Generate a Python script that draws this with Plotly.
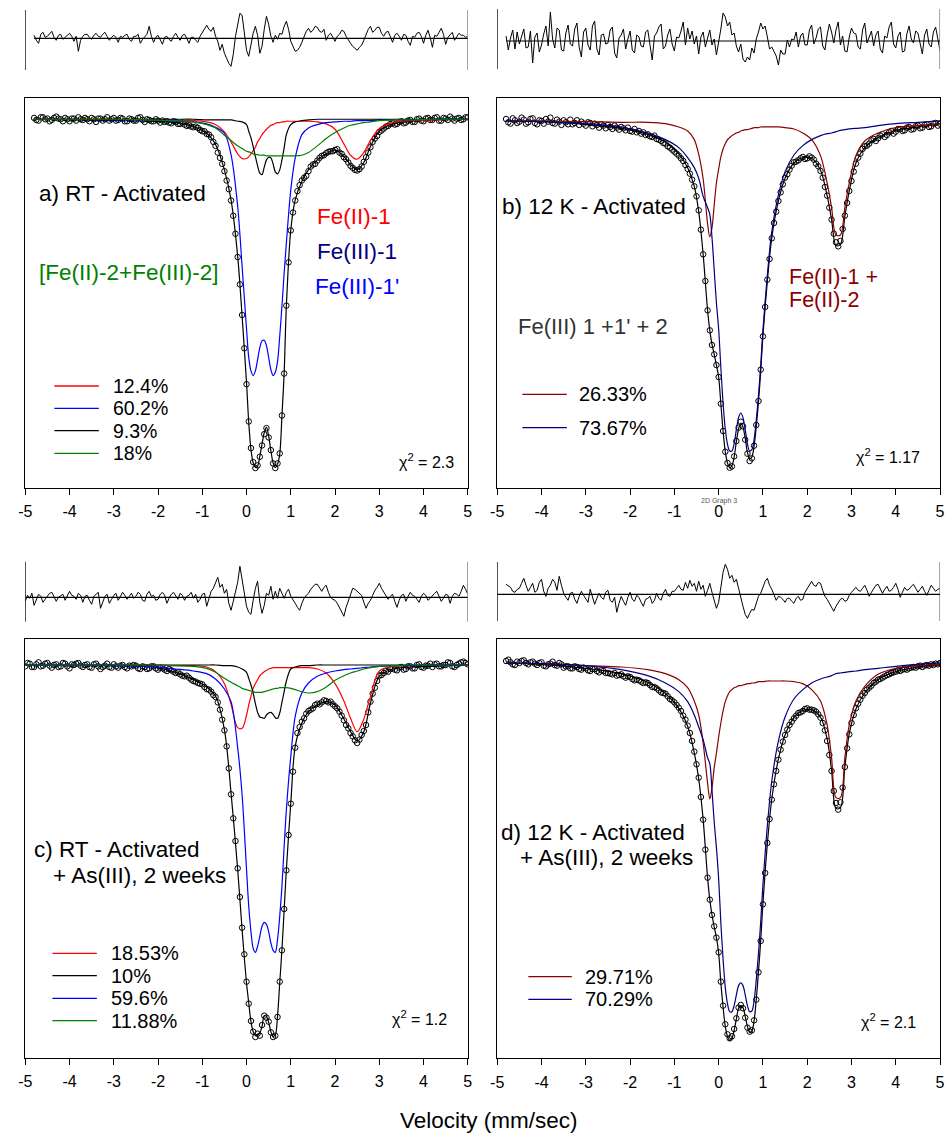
import plotly.graph_objects as go

W, H = 950, 1133
FONT = "Liberation Sans, Arial, Helvetica, sans-serif"

# ---------------- data (velocity in mm/s, relative transmission in %) ----------------
vel = [-4.8, -4.75, -4.7, -4.65, -4.6, -4.55, -4.5, -4.45, -4.4, -4.35,
       -4.3, -4.25, -4.2, -4.15, -4.1, -4.05, -4.0, -3.95, -3.9, -3.85,
       -3.8, -3.75, -3.7, -3.65, -3.6, -3.55, -3.5, -3.45, -3.4, -3.35,
       -3.3, -3.25, -3.2, -3.15, -3.1, -3.05, -3.0, -2.95, -2.9, -2.85,
       -2.8, -2.75, -2.7, -2.65, -2.6, -2.55, -2.5, -2.45, -2.4, -2.35,
       -2.3, -2.25, -2.2, -2.15, -2.1, -2.05, -2.0, -1.95, -1.9, -1.85,
       -1.8, -1.75, -1.7, -1.65, -1.6, -1.55, -1.5, -1.45, -1.4, -1.35,
       -1.3, -1.25, -1.2, -1.15, -1.1, -1.05, -1.0, -0.95, -0.9, -0.85,
       -0.8, -0.75, -0.7, -0.65, -0.6, -0.55, -0.5, -0.45, -0.4, -0.35,
       -0.3, -0.25, -0.2, -0.15, -0.1, -0.05, 0.0, 0.05, 0.1, 0.15,
       0.2, 0.25, 0.3, 0.35, 0.4, 0.45, 0.5, 0.55, 0.6, 0.65,
       0.7, 0.75, 0.8, 0.85, 0.9, 0.95, 1.0, 1.05, 1.1, 1.15,
       1.2, 1.25, 1.3, 1.35, 1.4, 1.45, 1.5, 1.55, 1.6, 1.65,
       1.7, 1.75, 1.8, 1.85, 1.9, 1.95, 2.0, 2.05, 2.1, 2.15,
       2.2, 2.25, 2.3, 2.35, 2.4, 2.45, 2.5, 2.55, 2.6, 2.65,
       2.7, 2.75, 2.8, 2.85, 2.9, 2.95, 3.0, 3.05, 3.1, 3.15,
       3.2, 3.25, 3.3, 3.35, 3.4, 3.45, 3.5, 3.55, 3.6, 3.65,
       3.7, 3.75, 3.8, 3.85, 3.9, 3.95, 4.0, 4.05, 4.1, 4.15,
       4.2, 4.25, 4.3, 4.35, 4.4, 4.45, 4.5, 4.55, 4.6, 4.65,
       4.7, 4.75, 4.8, 4.85, 4.9, 4.95, 5.0]
vel_c = [-5.0, -4.95, -4.9, -4.85] + vel

v_fit_rt = [-4.0, -3.0, -2.2, -1.6, -1.2, -0.9, -0.7, -0.5, -0.35, -0.2, -0.1, 0.0, 0.05, 0.1,
            0.15, 0.2, 0.25, 0.3, 0.35, 0.4, 0.45, 0.5, 0.55, 0.6, 0.65, 0.7, 0.75, 0.8, 0.85,
            0.9, 1.0, 1.1, 1.25, 1.4, 1.6, 1.8, 2.0, 2.2, 2.35, 2.5, 2.65, 2.8, 3.0, 3.3, 3.7,
            4.2, 5.0]
v_fit_a = [-4.8] + v_fit_rt
v_fit_c = [-5.0] + v_fit_rt
v_fit_lt = [-4.8, -4.0, -3.0, -2.2, -1.6, -1.2, -0.9, -0.7, -0.55, -0.45, -0.35, -0.25, -0.2,
            -0.15, -0.1, -0.05, 0.0, 0.05, 0.1, 0.15, 0.2, 0.25, 0.3, 0.35, 0.4, 0.45, 0.5,
            0.55, 0.6, 0.65, 0.7, 0.75, 0.8, 0.85, 0.9, 0.95, 1.0, 1.1, 1.2, 1.35, 1.5, 1.7,
            1.9, 2.1, 2.3, 2.45, 2.55, 2.65, 2.75, 2.85, 2.95, 3.1, 3.3, 3.6, 4.0, 4.5, 5.0]

# ---- panel a : RT - Activated ----
data_a = [100.02, 99.99, 99.98, 100.03, 100.03, 100.00, 100.01, 99.97, 99.99, 100.02,
          100.04, 100.01, 100.00, 99.97, 100.02, 100.00, 99.97, 100.01, 100.01, 99.98,
          100.03, 100.00, 99.99, 100.02, 100.00, 99.97, 100.02, 100.00, 99.96, 100.01,
          100.01, 99.98, 100.00, 100.03, 99.98, 100.00, 100.02, 99.98, 99.99, 100.02,
          100.01, 99.97, 99.97, 100.01, 100.00, 99.98, 99.98, 100.02, 100.03, 99.99,
          99.96, 100.00, 99.99, 99.97, 99.97, 100.00, 99.98, 99.95, 99.98, 99.96,
          99.97, 99.95, 99.94, 99.97, 99.96, 99.93, 99.93, 99.95, 99.92, 99.90,
          99.91, 99.89, 99.88, 99.89, 99.87, 99.84, 99.82, 99.82, 99.78, 99.77,
          99.73, 99.66, 99.60, 99.50, 99.42, 99.33, 99.22, 99.08, 98.95, 98.78,
          98.55, 98.28, 97.93, 97.52, 97.06, 96.56, 96.02, 95.46, 95.06, 94.85,
          94.76, 94.80, 94.93, 95.10, 95.27, 95.36, 95.22, 95.03, 94.83, 94.76,
          94.83, 94.98, 95.55, 96.18, 97.20, 97.85, 98.33, 98.60, 98.78, 98.92,
          99.01, 99.08, 99.12, 99.15, 99.22, 99.29, 99.32, 99.33, 99.38, 99.42,
          99.45, 99.46, 99.49, 99.51, 99.52, 99.52, 99.54, 99.55, 99.50, 99.48,
          99.43, 99.40, 99.35, 99.30, 99.27, 99.24, 99.23, 99.25, 99.29, 99.36,
          99.43, 99.50, 99.58, 99.66, 99.71, 99.75, 99.81, 99.83, 99.86, 99.89,
          99.90, 99.93, 99.94, 99.92, 99.93, 99.96, 99.97, 99.94, 99.95, 99.98,
          99.99, 99.96, 99.96, 100.00, 100.01, 99.98, 99.97, 100.01, 100.02, 99.99,
          99.99, 100.02, 100.03, 99.98, 99.98, 100.02, 100.01, 99.99, 100.04, 100.01,
          99.98, 100.01, 100.02, 99.99, 100.00, 100.03, 100.03]
res_a = [0.3, -0.2, -0.5, 0.4, 0.6, 0.1, 0.2, 0.5, 0.7, 0.1,
         -0.2, 0.3, 0.4, -0.1, 0.1, 0.3, 0.5, 0.2, -0.3, 0.2,
         -1.3, -0.2, 0.2, 0.4, 0.4, 0.1, -0.1, 0.3, 0.5, 0.2,
         0.1, 0.4, 0.6, 0.2, -0.2, 0.1, 0.3, 0.1, -0.4, 0.2,
         0.1, 0.3, 0.4, -0.1, -0.3, 0.2, 0.2, 0.4, -0.5, -0.1,
         0.1, 0.4, 1.2, 0.2, -0.4, 0.1, 0.3, -0.2, -0.6, 0.1,
         0.2, -0.1, -0.3, 0.2, 0.5, 0.1, -0.2, 0.3, 0.4, 0.0,
         -0.5, 0.1, 0.1, -0.2, -0.4, 0.2, 0.6, 0.9, 1.3, 0.9,
         0.7, 1.1, 0.2, -0.3, -1.2, -0.6, -1.5, -2.0, -2.5, -2.8,
         -1.6, 0.2, 1.5, 2.5, 2.3, 0.4, -1.2, -1.8, -0.6, 0.5,
         1.2, 0.3, -1.5, -0.8, 0.9, 2.2, 1.4, 0.2, -0.4, 0.3,
         -0.1, 0.5, 0.4, 1.2, 1.7, 0.9, -0.3, -0.8, -1.3, -1.2,
         -0.9, -0.4, 0.2, 0.7, 1.0, 0.6, 0.8, 1.2, 1.1, 0.7,
         0.6, 0.9, -0.2, 0.3, 0.5, 0.1, -0.3, 0.2, 0.4, 0.8,
         0.7, 0.2, -0.2, -0.5, -0.8, -1.0, -1.2, -0.9, -0.7, -0.2,
         0.3, 0.9, 1.2, 0.6, 0.8, 1.1, 1.1, 0.5, 0.2, 0.6,
         0.7, 0.1, -0.4, 0.3, 0.5, 0.2, -0.2, 0.4, 0.3, -0.3,
         -0.7, 0.2, 0.1, 0.5, 0.6, 0.2, -0.5, 0.3, 0.8, 0.1,
         -0.9, 0.3, 0.2, 0.6, 1.0, 0.4, -0.6, 0.1, 0.4, 0.6,
         -0.2, 0.2, 0.5, 0.3, 0.3, 0.1, 0.2]
fe2_1_a = [100.00, 100.00, 100.00, 99.99, 99.98, 99.98, 99.96, 99.92, 99.81, 99.66, 99.48,
           99.41, 99.41, 99.44, 99.48, 99.53, 99.58, 99.66, 99.71, 99.77, 99.81, 99.85, 99.88,
           99.91, 99.92, 99.94, 99.95, 99.95, 99.96, 99.96, 99.97, 99.97, 99.97, 99.97, 99.97,
           99.96, 99.93, 99.85, 99.63, 99.46, 99.40, 99.50, 99.68, 99.86, 99.95, 99.98, 99.99,
           100.00]
fe3_1p_a = [100.00, 100.00, 99.99, 99.99, 99.97, 99.96, 99.93, 99.88, 99.79, 99.47, 98.69,
            97.79, 96.85, 96.42, 96.22, 96.15, 96.22, 96.39, 96.57, 96.67, 96.68, 96.60, 96.42,
            96.24, 96.15, 96.20, 96.36, 96.74, 97.19, 97.69, 98.14, 98.94, 99.42, 99.77, 99.87,
            99.92, 99.95, 99.96, 99.97, 99.97, 99.98, 99.98, 99.98, 99.99, 99.99, 99.99,
            100.00, 100.00]
fe3_1_a = [100.00, 100.00, 100.00, 100.00, 100.00, 100.00, 99.99, 99.99, 99.99, 99.99, 99.97,
           99.96, 99.92, 99.82, 99.72, 99.59, 99.44, 99.30, 99.19, 99.17, 99.28, 99.39, 99.43,
           99.42, 99.33, 99.21, 99.18, 99.24, 99.39, 99.57, 99.77, 99.92, 99.96, 99.98, 99.99,
           100.00, 100.00, 100.00, 100.00, 100.00, 100.00, 100.00, 100.00, 100.00, 100.00,
           100.00, 100.00, 100.00]
fe23_2_a = [100.00, 100.00, 100.00, 99.99, 99.98, 99.96, 99.92, 99.87, 99.76, 99.68, 99.60,
            99.56, 99.52, 99.51, 99.50, 99.48, 99.47, 99.47, 99.46, 99.46, 99.46, 99.45, 99.45,
            99.45, 99.45, 99.45, 99.45, 99.45, 99.45, 99.45, 99.45, 99.45, 99.45, 99.46, 99.50,
            99.60, 99.71, 99.80, 99.87, 99.91, 99.93, 99.95, 99.96, 99.98, 99.99, 99.99,
            100.00, 100.00]
total_a = [100.00, 99.99, 99.98, 99.97, 99.95, 99.89, 99.79, 99.62, 99.24, 98.79, 97.94, 97.04,
           96.04, 95.44, 95.04, 94.84, 94.77, 94.79, 94.94, 95.12, 95.29, 95.37, 95.24, 95.02,
           94.84, 94.77, 94.82, 94.97, 95.54, 96.19, 97.19, 98.34, 98.79, 99.07, 99.24, 99.39,
           99.48, 99.54, 99.44, 99.32, 99.24, 99.35, 99.59, 99.82, 99.93, 99.97, 99.99, 100.00]

# ---- panel b : 12 K - Activated ----
data_b = [100.03, 99.98, 99.96, 100.04, 100.01, 99.97, 99.99, 100.05, 100.02, 99.96,
          99.98, 100.03, 100.04, 99.97, 99.95, 100.01, 100.00, 99.96, 100.03, 99.99,
          100.05, 99.97, 99.96, 100.02, 99.99, 99.94, 100.01, 99.98, 99.95, 100.02,
          99.95, 99.97, 100.01, 99.94, 99.99, 99.96, 99.93, 99.98, 99.97, 99.92,
          99.96, 99.94, 99.90, 99.95, 99.93, 99.89, 99.94, 99.91, 99.88, 99.93,
          99.90, 99.87, 99.91, 99.89, 99.86, 99.90, 99.85, 99.84, 99.88, 99.83,
          99.85, 99.81, 99.83, 99.79, 99.80, 99.77, 99.76, 99.78, 99.73, 99.72,
          99.70, 99.67, 99.66, 99.62, 99.60, 99.57, 99.54, 99.51, 99.48, 99.44,
          99.40, 99.34, 99.28, 99.21, 99.12, 99.02, 98.87, 98.66, 98.37, 98.00,
          97.60, 97.16, 96.86, 96.64, 96.50, 96.34, 96.16, 95.76, 95.35, 95.04,
          94.87, 94.80, 94.82, 94.97, 95.20, 95.40, 95.49, 95.42, 95.22, 95.01,
          94.90, 94.94, 95.13, 95.44, 95.80, 96.27, 96.77, 97.21, 97.62, 97.93,
          98.24, 98.47, 98.64, 98.80, 98.93, 99.05, 99.15, 99.20, 99.27, 99.33,
          99.38, 99.39, 99.41, 99.44, 99.46, 99.43, 99.44, 99.47, 99.45, 99.42,
          99.36, 99.32, 99.25, 99.15, 99.01, 98.88, 98.70, 98.52, 98.31, 98.18,
          98.12, 98.20, 98.38, 98.58, 98.77, 98.95, 99.10, 99.24, 99.36, 99.45,
          99.51, 99.58, 99.62, 99.63, 99.66, 99.71, 99.73, 99.70, 99.74, 99.78,
          99.80, 99.76, 99.79, 99.83, 99.85, 99.81, 99.84, 99.88, 99.88, 99.85,
          99.86, 99.90, 99.91, 99.87, 99.88, 99.92, 99.93, 99.89, 99.90, 99.94,
          99.95, 99.91, 99.92, 99.96, 99.97, 99.93, 99.96]
res_b = [0.5, -0.9, 0.3, 1.1, -0.8, 0.9, -0.3, 0.6, 1.2, -0.7,
         -0.6, 1.0, -2.2, 0.4, 0.8, -1.1, -0.4, 0.7, 1.5, -0.5,
         2.9, 0.2, -0.7, 1.3, 1.1, -0.9, -1.0, 0.8, 1.6, -0.3,
         -0.5, 1.2, 1.8, -0.6, -1.6, 0.9, 1.3, -0.4, -0.9, 1.5,
         2.0, -0.8, -1.4, 0.6, 0.7, -0.3, -0.2, 1.1, 1.4, -1.2,
         -1.7, 0.3, 0.6, 1.2, -0.8, 0.2, 1.0, -0.9, -1.2, 0.6,
         0.4, -0.5, -0.6, 0.9, 1.1, -0.4, -1.9, 0.5, 0.8, 1.4,
         1.7, -0.8, -0.5, 0.6, 1.2, -0.3, -1.0, 0.4, 0.3, 1.0,
         1.9, -0.4, 1.3, 0.2, 1.0, -0.3, 0.5, -1.3, 0.4, 0.9,
         -0.6, 0.3, 1.1, -0.4, 0.2, -1.4, -0.2, 1.2, 2.8, 2.4,
         1.5, 1.9, 0.6, 0.8, -0.5, -1.1, -0.3, -1.8, -2.1, -1.6,
         -1.9, -0.7, -1.2, 0.2, 0.9, 1.8, 1.2, 1.5, 0.4, -0.8,
         -0.6, -1.1, -1.5, -2.4, -0.9, -1.3, -1.3, 0.1, -0.6, 0.2,
         0.1, 0.9, -0.6, 0.5, 0.8, -0.4, -0.4, 1.1, 1.6, -0.3,
         0.3, 1.2, 1.4, -0.5, -0.9, 0.6, 1.7, 0.9, -0.2, 1.1,
         1.9, -0.4, 0.5, -1.0, -1.1, 0.4, 1.3, 0.8, 0.7, -0.6,
         -0.8, 1.1, 1.8, -0.2, 0.4, 1.0, -0.5, 0.6, 1.0, -0.8,
         -1.2, 0.5, 0.3, 1.4, 1.9, -0.3, -0.7, 0.5, 0.9, -1.1,
         -1.0, 0.7, 1.5, 0.2, -0.2, 1.0, 0.8, -0.4, -1.3, 0.6,
         1.2, -0.3, -0.6, 0.9, 1.4, 0.2, -1.0]
fe2_b = [100.00, 100.00, 99.99, 99.98, 99.98, 99.96, 99.91, 99.85, 99.72, 99.50, 99.13, 98.46,
         98.26, 98.40, 98.74, 99.07, 99.28, 99.46, 99.58, 99.66, 99.72, 99.75, 99.78, 99.80,
         99.82, 99.83, 99.85, 99.86, 99.87, 99.87, 99.88, 99.89, 99.90, 99.90, 99.90, 99.91,
         99.91, 99.91, 99.91, 99.91, 99.90, 99.88, 99.82, 99.72, 99.48, 99.07, 98.70, 98.29,
         98.29, 98.70, 99.07, 99.48, 99.70, 99.82, 99.90, 99.93, 99.96]
fe3_b = [100.00, 99.99, 99.96, 99.91, 99.82, 99.72, 99.60, 99.45, 99.30, 99.14, 98.87, 98.70,
         98.60, 98.25, 97.76, 97.27, 96.88, 96.30, 95.77, 95.38, 95.15, 95.05, 95.05, 95.16,
         95.37, 95.55, 95.62, 95.55, 95.37, 95.16, 95.05, 95.07, 95.22, 95.52, 95.89, 96.34,
         96.87, 97.69, 98.34, 98.89, 99.24, 99.49, 99.63, 99.72, 99.78, 99.81, 99.82, 99.84,
         99.86, 99.87, 99.88, 99.89, 99.90, 99.93, 99.96, 99.98, 100.00]
total_b = [100.00, 99.99, 99.95, 99.89, 99.80, 99.68, 99.51, 99.30, 99.02, 98.64, 98.00, 97.16,
           96.86, 96.65, 96.50, 96.34, 96.16, 95.76, 95.35, 95.04, 94.87, 94.80, 94.83, 94.96,
           95.19, 95.38, 95.47, 95.41, 95.24, 95.03, 94.93, 94.96, 95.12, 95.42, 95.79, 96.25,
           96.78, 97.60, 98.25, 98.80, 99.14, 99.37, 99.45, 99.44, 99.26, 98.88, 98.52, 98.13,
           98.15, 98.57, 98.95, 99.37, 99.60, 99.75, 99.86, 99.91, 99.96]

# ---- panel c : RT - Activated + As(III), 2 weeks ----
data_c = [99.98, 100.03, 100.02, 99.97,
          99.97, 100.01, 100.04, 99.98, 99.99, 100.02, 100.03, 99.99, 99.96, 100.00,
          100.01, 99.97, 99.98, 100.03, 100.02, 99.98, 99.95, 100.01, 100.00, 100.02,
          100.03, 99.99, 99.97, 100.00, 100.01, 99.97, 99.96, 100.01, 100.02, 99.98,
          99.94, 99.97, 99.99, 100.02, 99.97, 99.96, 100.01, 99.98, 99.96, 99.99,
          100.00, 99.97, 99.95, 99.99, 99.98, 100.00, 99.99, 99.95, 99.94, 99.98,
          99.97, 99.94, 99.95, 99.98, 99.98, 99.95, 99.93, 99.96, 99.95, 99.93,
          99.91, 99.94, 99.92, 99.90, 99.88, 99.89, 99.86, 99.84, 99.83, 99.84,
          99.81, 99.78, 99.76, 99.75, 99.73, 99.72, 99.71, 99.67, 99.64, 99.63,
          99.60, 99.55, 99.52, 99.44, 99.33, 99.18, 99.02, 98.78, 98.45, 98.06,
          97.70, 97.36, 96.95, 96.52, 96.06, 95.66, 95.25, 94.92, 94.66, 94.50,
          94.42, 94.47, 94.44, 94.60, 94.74, 94.71, 94.65, 94.49, 94.42, 94.44,
          94.72, 95.25, 95.72, 96.34, 96.92, 97.45, 97.92, 98.40, 98.76, 98.98,
          99.07, 99.15, 99.20, 99.27, 99.31, 99.33, 99.35, 99.40, 99.42, 99.41,
          99.44, 99.47, 99.46, 99.44, 99.45, 99.41, 99.38, 99.35, 99.30, 99.24,
          99.17, 99.10, 99.05, 98.98, 98.93, 98.87, 98.83, 98.88, 98.95, 99.01,
          99.10, 99.29, 99.45, 99.57, 99.66, 99.76, 99.84, 99.85, 99.88, 99.91,
          99.90, 99.94, 99.95, 99.93, 99.92, 99.96, 99.97, 99.93, 99.94, 99.98,
          99.98, 99.95, 99.95, 100.00, 100.01, 99.97, 99.96, 99.99, 99.99, 100.02,
          99.97, 100.01, 100.02, 99.98, 99.98, 100.00, 100.00, 100.04, 100.03, 99.98,
          99.97, 100.00, 100.02, 100.04, 100.05, 100.03, 100.01]
res_c = [-0.4, 0.2, -0.1, 0.4,
         -0.8, -0.3, 0.3, 0.1, -0.5, -0.2, 0.1, 0.4, 0.5, 0.1,
         -0.4, 0.0, 0.2, 0.3, -0.3, 0.1, 0.6, 0.2, 0.1, -0.2,
         0.4, 0.2, -0.5, 0.1, 0.2, -0.3, -0.7, 0.1, 0.3, 0.5,
         -1.1, -0.4, 0.1, 0.3, -0.6, -0.2, 0.2, 0.4, -0.3, 0.1,
         0.5, 0.2, -0.2, 0.1, 0.4, -0.1, 0.1, 0.5, 0.3, -0.3,
         -0.4, 0.3, 0.6, 0.1, 0.2, -0.3, -0.2, 0.3, 0.5, 0.2,
         -0.6, -0.1, 0.3, 0.5, 0.1, -0.2, 0.4, 0.2, -0.3, 0.1,
         0.2, 0.5, -0.1, 0.3, -0.5, -0.2, 0.3, 0.4, -0.9, -0.2,
         0.6, 0.9, 1.4, 2.0, 1.0, 1.3, 0.4, 0.8, -0.6, -1.3,
         -0.4, 0.7, 1.5, 3.1, 1.8, 0.2, -0.9, -1.5, -1.7, -0.3,
         0.9, 1.6, -0.5, -1.6, -0.8, 0.4, 0.2, 1.1, -0.2, 0.6,
         -0.1, 0.9, 0.3, -0.1, 0.5, 0.8, 0.1, -0.2, -0.6, -1.0,
         -1.3, -0.6, -0.1, 0.2, 0.4, 0.8, 1.1, 1.3, 1.3, 0.9,
         0.6, 1.0, 1.2, 0.5, 0.0, -0.2, -0.3, -0.6, -1.0, -1.5,
         -1.9, -1.0, -0.4, 0.4, 0.9, 0.8, 0.6, 0.4, 0.2, -0.5,
         -1.1, -0.6, -0.3, 0.2, 0.7, 1.0, 1.4, 0.9, 0.5, 0.1,
         -0.2, 0.1, 0.3, -0.4, -1.0, -0.3, 0.2, 0.3, -0.4, 0.1,
         0.5, 0.2, 0.1, -0.2, -0.5, 0.1, 0.4, 0.2, -0.3, -0.1,
         0.2, 0.4, 0.6, 0.1, -0.4, -0.1, 0.3, 0.2, -0.6, 0.1,
         0.4, 0.3, 0.1, 0.6, 1.2, 0.8, 0.3]
fe2_1_c = [100.00, 100.00, 100.00, 100.00, 99.99, 99.99, 99.97, 99.90, 99.72, 99.41, 99.06,
           99.05, 99.25, 99.40, 99.53, 99.65, 99.72, 99.78, 99.84, 99.87, 99.90, 99.92, 99.94,
           99.95, 99.96, 99.96, 99.96, 99.96, 99.96, 99.96, 99.96, 99.96, 99.96, 99.96, 99.96,
           99.94, 99.88, 99.72, 99.46, 99.20, 99.00, 99.19, 99.53, 99.91, 99.98, 99.99,
           100.00, 100.00]
fe3_1_c = [100.00, 100.00, 100.00, 100.00, 100.00, 100.00, 100.00, 100.00, 99.99, 99.99, 99.97,
           99.94, 99.89, 99.80, 99.70, 99.58, 99.42, 99.29, 99.22, 99.21, 99.20, 99.25, 99.28,
           99.29, 99.26, 99.21, 99.20, 99.28, 99.44, 99.60, 99.76, 99.94, 99.97, 99.99, 99.99,
           100.00, 100.00, 100.00, 100.00, 100.00, 100.00, 100.00, 100.00, 100.00, 100.00,
           100.00, 100.00, 100.00]
fe3_1p_c = [100.00, 100.00, 99.99, 99.98, 99.94, 99.91, 99.87, 99.79, 99.64, 99.45, 98.76,
            98.05, 96.93, 96.38, 96.00, 95.75, 95.69, 95.78, 95.93, 96.08, 96.14, 96.11, 96.00,
            95.83, 95.72, 95.69, 95.88, 96.23, 96.68, 97.28, 97.83, 98.63, 99.23, 99.58, 99.73,
            99.83, 99.88, 99.91, 99.93, 99.94, 99.95, 99.96, 99.97, 99.98, 99.99, 99.99,
            100.00, 100.00]
fe23_2_c = [100.00, 100.00, 100.00, 100.00, 99.99, 99.98, 99.95, 99.89, 99.80, 99.74, 99.69,
            99.65, 99.63, 99.62, 99.61, 99.60, 99.59, 99.59, 99.59, 99.59, 99.60, 99.61, 99.62,
            99.63, 99.64, 99.65, 99.65, 99.66, 99.66, 99.66, 99.66, 99.65, 99.63, 99.60, 99.58,
            99.60, 99.67, 99.77, 99.84, 99.88, 99.91, 99.94, 99.96, 99.98, 99.99, 100.00,
            100.00, 100.00]
total_c = [100.00, 99.99, 99.99, 99.98, 99.89, 99.78, 99.67, 99.53, 99.03, 98.08, 96.93, 96.03,
           95.23, 94.93, 94.65, 94.50, 94.44, 94.45, 94.48, 94.58, 94.74, 94.73, 94.64, 94.50,
           94.43, 94.45, 94.73, 95.23, 95.73, 96.33, 96.93, 97.93, 98.78, 99.13, 99.30, 99.40,
           99.45, 99.40, 99.19, 99.00, 98.86, 99.00, 99.43, 99.83, 99.94, 99.97, 99.98, 100.00]

# ---- panel d : 12 K - Activated + As(III), 2 weeks ----
data_d = [100.03, 100.05, 100.01, 99.98, 99.97, 100.02, 100.00, 100.03, 100.04, 100.00,
          99.98, 100.01, 100.02, 99.99, 99.97, 100.00, 100.01, 99.96, 99.95, 99.98,
          99.99, 100.02, 99.97, 99.96, 100.00, 99.98, 99.93, 99.95, 99.95, 99.92,
          99.92, 99.95, 99.94, 99.91, 99.90, 99.93, 99.92, 99.89, 99.88, 99.91,
          99.91, 99.88, 99.86, 99.89, 99.88, 99.85, 99.85, 99.84, 99.83, 99.85,
          99.81, 99.82, 99.83, 99.80, 99.78, 99.80, 99.79, 99.76, 99.74, 99.75,
          99.74, 99.72, 99.70, 99.71, 99.70, 99.67, 99.64, 99.64, 99.62, 99.59,
          99.56, 99.55, 99.54, 99.50, 99.46, 99.44, 99.41, 99.37, 99.33, 99.28,
          99.21, 99.15, 99.06, 98.95, 98.83, 98.67, 98.48, 98.28, 97.99, 97.65,
          97.20, 96.78, 96.45, 96.22, 96.05, 95.88, 95.66, 95.22, 94.86, 94.58,
          94.43, 94.37, 94.40, 94.51, 94.67, 94.83, 94.87, 94.82, 94.68, 94.53,
          94.47, 94.49, 94.64, 94.95, 95.36, 95.83, 96.38, 96.85, 97.30, 97.66,
          97.95, 98.18, 98.38, 98.55, 98.70, 98.82, 98.92, 99.00, 99.07, 99.12,
          99.17, 99.21, 99.25, 99.26, 99.28, 99.31, 99.32, 99.30, 99.30, 99.29,
          99.27, 99.23, 99.18, 99.10, 98.99, 98.83, 98.62, 98.38, 98.08, 97.90,
          97.80, 97.91, 98.13, 98.44, 98.72, 98.93, 99.10, 99.22, 99.32, 99.39,
          99.45, 99.51, 99.55, 99.60, 99.63, 99.66, 99.70, 99.72, 99.75, 99.76,
          99.78, 99.80, 99.82, 99.83, 99.85, 99.86, 99.87, 99.89, 99.88, 99.90,
          99.91, 99.90, 99.92, 99.93, 99.94, 99.93, 99.95, 99.96, 99.94, 99.96,
          99.97, 99.96, 99.98, 99.97, 99.99, 99.98, 100.00]
res_d = [1.0, 0.8, 0.7, 0.3, 0.2, 0.5, 0.6, 1.1, 1.6, 0.9,
         0.3, 0.7, 1.1, 0.2, 0.4, 1.2, 1.5, 0.3, -0.2, 0.6,
         0.9, 1.5, 1.2, 0.4, 1.8, 0.9, 0.1, -0.3, -0.6, 0.1,
         0.2, -0.5, -0.9, -0.2, 0.3, -0.1, -0.4, -0.8, 0.5, -0.2,
         -1.0, -0.4, 0.1, -0.3, -0.5, 0.2, 0.4, -0.6, -0.8, -0.3,
         -1.8, -0.9, -0.2, -0.7, -1.1, -0.3, 0.2, -0.5, -0.7, -0.1,
         -0.3, -0.8, -1.2, -0.5, -0.4, -0.2, -0.9, -0.6, 0.1, -0.4,
         -0.6, 0.1, 0.5, -0.1, -0.2, 0.3, 0.3, 0.6, 0.9, 0.5,
         0.4, 1.2, 0.6, 1.4, 0.8, 1.1, 0.3, 1.3, 0.5, 0.9,
         -0.2, 0.4, 1.1, 0.2, -0.6, -1.4, -0.8, 0.9, 2.2, 3.0,
         2.5, 1.6, 1.9, 1.2, 1.5, 0.6, -0.4, -1.2, -2.0, -2.4,
         -1.9, -1.5, -1.6, -0.8, -0.2, 0.1, 0.7, 1.3, 1.6, 0.9,
         0.5, -0.1, -0.6, -0.2, -0.3, -0.5, -0.8, -0.4, -0.4, -0.7,
         -0.9, -0.4, -0.2, -0.6, -0.5, 0.2, 0.6, 1.0, 1.3, 0.9,
         0.8, 1.2, 1.1, 0.4, -0.2, -0.5, -0.9, -1.3, -1.7, -1.2,
         -0.8, -0.5, -0.4, -0.7, -0.6, -0.1, 0.2, 0.5, 0.7, 0.4,
         0.3, 0.6, 0.9, 0.4, -0.2, 0.2, 0.6, 0.9, 1.0, 0.5,
         0.1, 0.5, 0.8, 0.3, 0.4, 0.7, 1.1, 0.5, -0.3, 0.2,
         0.7, 0.4, 0.5, 0.8, 1.0, 0.6, 0.2, 0.5, 0.8, 0.3,
         -0.1, 0.4, 0.9, 0.6, 0.3, 0.5, 0.6]
fe2_d = [100.00, 99.99, 99.96, 99.94, 99.90, 99.84, 99.75, 99.63, 99.43, 99.22, 98.80, 98.20,
         97.96, 98.13, 98.43, 98.65, 98.89, 99.10, 99.28, 99.42, 99.51, 99.57, 99.60, 99.63,
         99.64, 99.66, 99.66, 99.67, 99.68, 99.69, 99.69, 99.70, 99.70, 99.71, 99.72, 99.72,
         99.72, 99.73, 99.73, 99.73, 99.73, 99.72, 99.69, 99.60, 99.43, 99.07, 98.58, 97.98,
         97.98, 98.58, 99.07, 99.43, 99.65, 99.83, 99.92, 99.96, 99.98]
fe3_d = [100.00, 99.99, 99.96, 99.90, 99.81, 99.70, 99.57, 99.42, 99.22, 99.04, 98.85, 98.58,
         98.49, 98.09, 97.61, 97.23, 96.76, 96.10, 95.56, 95.13, 94.89, 94.77, 94.77, 94.86,
         95.02, 95.16, 95.20, 95.16, 95.02, 94.86, 94.77, 94.78, 94.93, 95.25, 95.65, 96.12,
         96.67, 97.56, 98.23, 98.83, 99.19, 99.46, 99.60, 99.70, 99.76, 99.79, 99.81, 99.84,
         99.85, 99.86, 99.87, 99.88, 99.90, 99.92, 99.95, 99.98, 100.00]
total_d = [100.00, 99.98, 99.92, 99.84, 99.71, 99.54, 99.32, 99.05, 98.65, 98.26, 97.65, 96.78,
           96.45, 96.22, 96.04, 95.88, 95.65, 95.20, 94.84, 94.55, 94.40, 94.34, 94.37, 94.49,
           94.66, 94.82, 94.86, 94.83, 94.70, 94.55, 94.46, 94.48, 94.63, 94.96, 95.37, 95.84,
           96.39, 97.29, 97.96, 98.56, 98.92, 99.18, 99.29, 99.30, 99.19, 98.86, 98.39, 97.82,
           97.83, 98.44, 98.94, 99.31, 99.55, 99.75, 99.87, 99.94, 99.98]

tick_vals = [-5, -4, -3, -2, -1, 0, 1, 2, 3, 4, 5]
tick_text = ["-5", "-4", "-3", "-2", "-1", "0", "1", "2", "3", "4", "5"]

for a, b in [(vel, data_a), (vel, res_a), (vel, data_b), (vel, res_b), (vel_c, data_c),
             (vel_c, res_c), (vel, data_d), (vel, res_d)]:
    assert len(a) == len(b), (len(a), len(b))
for s in [fe2_1_a, fe3_1p_a, fe3_1_a, fe23_2_a, total_a]:
    assert len(s) == len(v_fit_a), len(s)
for s in [fe2_1_c, fe3_1p_c, fe3_1_c, fe23_2_c, total_c]:
    assert len(s) == len(v_fit_c), len(s)
for s in [fe2_b, fe3_b, total_b, fe2_d, fe3_d, total_d]:
    assert len(s) == len(v_fit_lt), len(s)

# ---------------- colours ----------------
RED, BLUE, GREEN, BLACK = "#FF0000", "#0000FF", "#008000", "#000000"
DKRED, NAVY = "#8B0000", "#000080"


def X(px):
    return px / W


def Y(py):
    return 1 - py / H


fig = go.Figure()


def ax(n, kind):
    return kind + ("" if n == 1 else str(n))


def tr(n, kind):
    return kind + ("" if n == 1 else str(n))


def add_fit(n, xs, ys, color, width=1.2):
    fig.add_trace(go.Scatter(x=xs, y=ys, mode="lines",
                             line=dict(color=color, width=width, shape="spline", smoothing=0.9),
                             xaxis=tr(n, "x"), yaxis=tr(n, "y"), hoverinfo="skip",
                             showlegend=False))


def add_data(n, xs, ys):
    fig.add_trace(go.Scatter(x=xs, y=ys, mode="markers",
                             marker=dict(symbol="circle-open", size=5.5, color=BLACK,
                                         line=dict(width=1, color=BLACK)),
                             xaxis=tr(n, "x"), yaxis=tr(n, "y"), hoverinfo="skip",
                             showlegend=False))


def add_res(n, xs, ys):
    fig.add_trace(go.Scatter(x=xs, y=ys, mode="lines", line=dict(color=BLACK, width=1),
                             xaxis=tr(n, "x"), yaxis=tr(n, "y"), hoverinfo="skip",
                             showlegend=False))


# panel a
add_data(1, vel, data_a)
add_fit(1, v_fit_a, total_a, BLACK)
add_fit(1, v_fit_a, fe2_1_a, RED)
add_fit(1, v_fit_a, fe3_1p_a, BLUE)
add_fit(1, v_fit_a, fe3_1_a, BLACK)
add_fit(1, v_fit_a, fe23_2_a, GREEN)
# panel b
add_data(2, vel, data_b)
add_fit(2, v_fit_lt, total_b, BLACK)
add_fit(2, v_fit_lt, fe2_b, DKRED)
add_fit(2, v_fit_lt, fe3_b, NAVY)
# panel c
add_data(3, vel_c, data_c)
add_fit(3, v_fit_c, total_c, BLACK)
add_fit(3, v_fit_c, fe2_1_c, RED)
add_fit(3, v_fit_c, fe3_1_c, BLACK)
add_fit(3, v_fit_c, fe3_1p_c, BLUE)
add_fit(3, v_fit_c, fe23_2_c, GREEN)
# panel d
add_data(4, vel, data_d)
add_fit(4, v_fit_lt, total_d, BLACK)
add_fit(4, v_fit_lt, fe2_d, DKRED)
add_fit(4, v_fit_lt, fe3_d, NAVY)
# residuals
add_res(5, vel, res_a)
add_res(6, vel, res_b)
add_res(7, vel_c, res_c)
add_res(8, vel, res_d)

# ---------------- axes ----------------
XL, XR = (18.5, 466.7), (496.5, 945.0)
main = {1: (XL, (98.3, 487.7), [94.465, 100.315]),
        2: (XR, (98.3, 487.7), [94.50, 100.34]),
        3: (XL, (639.0, 1058.0), [94.105, 100.39]),
        4: (XR, (639.0, 1058.3), [94.07, 100.36])}
resid = {5: (XL, (10.0, 70.0), [-3.17, 2.83]),
         6: (XR, (9.0, 69.0), [-2.8, 3.2]),
         7: (XL, (561.7, 621.7), [-2.44, 3.56]),
         8: (XR, (562.0, 621.0), [-2.67, 3.23])}

layout = {}
for n, ((x0, x1), (y0, y1), yr) in main.items():
    layout[ax(n, "xaxis")] = dict(
        domain=[X(x0), X(x1)], anchor=tr(n, "y"), range=[-5, 5], showline=True,
        linecolor=BLACK, linewidth=1.3, mirror=True, ticks="outside", ticklen=6,
        tickwidth=1.3, tickcolor=BLACK, tickmode="array", tickvals=tick_vals,
        ticktext=tick_text, tickfont=dict(family=FONT, size=16, color=BLACK),
        ticklabelstandoff=3, showgrid=False, zeroline=False, fixedrange=True)
    layout[ax(n, "yaxis")] = dict(
        domain=[Y(y1), Y(y0)], anchor=tr(n, "x"), range=yr, showline=True,
        linecolor=BLACK, linewidth=1.3, mirror=True, ticks="", showticklabels=False,
        showgrid=False, zeroline=False, fixedrange=True)
for n, ((x0, x1), (y0, y1), yr) in resid.items():
    layout[ax(n, "xaxis")] = dict(domain=[X(x0), X(x1)], anchor=tr(n, "y"), range=[-5, 5],
                                  visible=False, fixedrange=True)
    layout[ax(n, "yaxis")] = dict(domain=[Y(y1), Y(y0)], anchor=tr(n, "x"), range=yr,
                                  visible=False, fixedrange=True)

shapes = []
for n, xs in [(5, vel), (6, vel), (7, vel_c), (8, vel_c)]:
    xr, yr_ = tr(n, "x"), tr(n, "y")
    shapes.append(dict(type="line", xref=xr, yref=yr_ + " domain", x0=-5, x1=-5, y0=0, y1=1,
                       line=dict(color=BLACK, width=1.3)))
    shapes.append(dict(type="line", xref=xr, yref=yr_ + " domain", x0=5, x1=5, y0=0, y1=1,
                       line=dict(color="#8c8c8c", width=1.6)))
    shapes.append(dict(type="line", xref=xr, yref=yr_, x0=xs[0], x1=5, y0=0, y1=0,
                       line=dict(color=BLACK, width=1.2)))

legend_rows = [
    (48, 93, 105, [(386.0, RED, "12.4%"), (408.3, BLUE, "60.2%"), (430.7, BLACK, "9.3%"),
                   (453.3, GREEN, "18%")], 19.5),
    (522, 567, 577, [(394.3, DKRED, "26.33%"), (427.7, NAVY, "73.67%")], 20),
    (46, 91, 103, [(953.3, RED, "18.53%"), (975.7, BLACK, "10%"), (998.3, BLUE, "59.6%"),
                   (1020.7, GREEN, "11.88%")], 20),
    (528, 572, 583, [(976.7, DKRED, "29.71%"), (999.3, NAVY, "70.29%")], 20),
]
annotations = []


def label(text, x, y, size, color=BLACK, xanchor="left"):
    annotations.append(dict(text=text, x=X(x), y=Y(y), xref="paper", yref="paper",
                            xanchor=xanchor, yanchor="middle", showarrow=False,
                            font=dict(family=FONT, size=size, color=color)))


for lx0, lx1, tx, rows, fs in legend_rows:
    for yy, col, txt in rows:
        shapes.append(dict(type="line", xref="paper", yref="paper", x0=X(lx0), x1=X(lx1),
                           y0=Y(yy), y1=Y(yy), line=dict(color=col, width=1.3)))
        label(txt, tx, yy, fs)

BIG = 22.5
# panel a
label("a) RT - Activated", 30, 194, BIG)
label("Fe(II)-1", 312, 216.5, BIG, RED)
label("Fe(III)-1", 312, 251, BIG, NAVY)
label("Fe(III)-1'", 310, 286, BIG, BLUE)
label("[Fe(II)-2+Fe(III)-2]", 30, 272.5, BIG, GREEN)
label("χ<sup>2</sup> = 2.3", 395, 461, 16)
# panel b
label("b) 12 K - Activated", 499, 207, BIG)
label("Fe(II)-1 +", 790, 277, 21.5, DKRED)
label("Fe(II)-2", 790, 300, 21.5, DKRED)
label("Fe(III) 1 +1' + 2", 516, 326, 22, "#333333")
label("χ<sup>2</sup> = 1.17", 858, 456, 16)
label("2D Graph 3", 721, 500.5, 7, "#555555", xanchor="center")
# panel c
label("c) RT - Activated", 25, 849, BIG)
label("+ As(III), 2 weeks", 45, 875, BIG)
label("χ<sup>2</sup> = 1.2", 388, 1018, 16)
# panel d
label("d) 12 K - Activated", 498, 832, BIG)
label("+ As(III), 2 weeks", 518, 857, BIG)
label("χ<sup>2</sup> = 2.1", 863, 1021, 16)
# common axis title
label("Velocity (mm/sec)", 488.5, 1120, BIG, xanchor="center")

fig.update_layout(width=W, height=H, margin=dict(l=0, r=0, t=0, b=0),
                  paper_bgcolor="white", plot_bgcolor="white", showlegend=False,
                  shapes=shapes, annotations=annotations, **layout)

fig.write_html("out.html", include_plotlyjs=True, config={"displayModeBar": False})
